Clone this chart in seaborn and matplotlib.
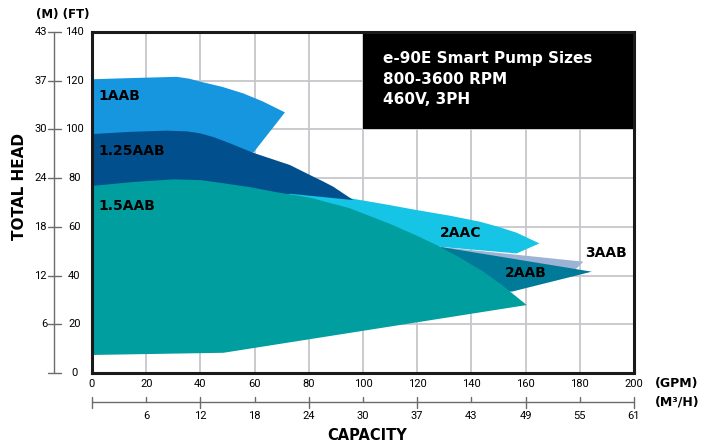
import matplotlib
matplotlib.use("Agg")
import matplotlib.pyplot as plt
import seaborn as sns

# capacity axis (GPM) and head axis (FT) with matching metric labels
gpm_ticks = [0, 20, 40, 60, 80, 100, 120, 140, 160, 180, 200]
m3h_labels = ["6", "12", "18", "24", "30", "37", "43", "49", "55", "61"]
ft_ticks = [0, 20, 40, 60, 80, 100, 120, 140]
m_labels = ["", "6", "12", "18", "24", "30", "37", "43"]

# pump coverage outlines (gpm, ft)
aab1_gpm = [0, 0, 15, 31.3, 36, 40, 48, 55.8, 63, 71.2, 59.5, 0]
aab1_ft = [90, 120.6, 121.1, 121.6, 120.8, 119.6, 117.5, 114.8, 111.5, 107.0, 90.4, 90]

aac2_gpm = [0, 0, 60, 80, 96.4, 108, 119.8, 132, 143.2, 150, 156.7, 165.1, 156.7, 128.4, 100, 0]
aac2_ft = [50, 70, 75.5, 75.0, 71.5, 69.3, 66.9, 64.6, 62.1, 60.0, 57.6, 53.2, 49.1, 51.8, 50, 50]

aab3_gpm = [128.4, 181.3, 178, 140]
aab3_ft = [51.8, 45.7, 42, 46]

aab2_gpm = [128.4, 184.4, 154.9, 140]
aab2_ft = [51.8, 41.6, 33.4, 35]

aab125_gpm = [0, 0, 14, 27.6, 35, 39.9, 45, 50.9, 59.5, 66, 73, 80.4, 85, 89, 96.4, 73, 60, 0]
aab125_ft = [70, 98.1, 99.0, 99.5, 99.2, 98.4, 96.8, 94.3, 90.4, 88.0, 85.4, 81.3, 78.8, 76.5, 71.0, 73.6, 70, 70]

aab15_gpm = [0, 0, 15, 30, 40, 48.5, 58.3, 68.2, 80.4, 95.2, 110, 120, 127.2, 136, 144.4, 152, 160.4, 48.5, 0]
aab15_ft = [7.4, 76.8, 78.4, 79.5, 79.2, 77.9, 76.3, 74.2, 72.0, 67.6, 61.2, 56.3, 52.5, 47.2, 41.6, 35.5, 27.9, 8.3, 7.4]

bands = [
    ("1AAB", aab1_gpm, aab1_ft, "#1796e0", (2.3, 113.7)),
    ("2AAC", aac2_gpm, aac2_ft, "#16c4e5", (128.2, 57.3)),
    ("3AAB", aab3_gpm, aab3_ft, "#9db3d5", (181.9, 49.4)),
    ("2AAB", aab2_gpm, aab2_ft, "#007a98", (152.4, 40.9)),
    ("1.25AAB", aab125_gpm, aab125_ft, "#024f8e", (2.3, 91.3)),
    ("1.5AAB", aab15_gpm, aab15_ft, "#009e9f", (2.3, 68.6)),
]

title_lines = "e-90E Smart Pump Sizes\n800-3600 RPM\n460V, 3PH"

sns.set_style("white")
plt.rcParams["font.family"] = ["DejaVu Sans"]
plt.rcParams["text.color"] = "black"
plt.rcParams["xtick.color"] = "black"

fig, ax = plt.subplots(figsize=(7.15, 4.44), dpi=100)
fig.subplots_adjust(left=92 / 715, right=634 / 715, bottom=71 / 444, top=412 / 444)

ax.set_xlim(0, 200)
ax.set_ylim(0, 140)
ax.set_xticks(gpm_ticks)
ax.set_yticks(ft_ticks)
ax.set_axisbelow(True)
ax.grid(True, color="#c6c6cb", lw=1.3)
ax.tick_params(axis="x", length=0, pad=4, labelsize=8, labelcolor="black")
ax.tick_params(axis="y", length=0, labelleft=False)
for lab in ax.get_xticklabels():
    lab.set_fontfamily("Roboto")
for sp in ax.spines.values():
    sp.set_visible(True)
    sp.set_color("#1a1a1a")
    sp.set_linewidth(2.2)
    sp.set_zorder(5)

for i, (name, xs, ys, col, (tx, ty)) in enumerate(bands):
    ax.fill(xs, ys, color=col, lw=0, zorder=2 + i * 0.1)

for name, xs, ys, col, (tx, ty) in bands:
    ax.text(tx, ty, name, fontsize=10, fontweight="bold", color="black",
            ha="left", va="center", zorder=4)

# black title box in the upper right
ax.fill_between([100, 200], 100, 140, color="black", lw=0, zorder=3)
ax.text(107.5, 120.7, title_lines, color="white", fontsize=11, fontweight="bold",
        ha="left", va="center", linespacing=1.45, zorder=4)

# left scale: metres / feet
ytr = ax.get_yaxis_transform()
grey = "#6b6b6b"
ax.plot([-0.0701, -0.0701], [0, 140], transform=ytr, clip_on=False, color=grey, lw=1)
for ft, m in zip(ft_ticks, m_labels):
    ax.plot([-0.0812, -0.0572], [ft, ft], transform=ytr, clip_on=False, color=grey, lw=1)
    ax.text(-0.083, ft, m, transform=ytr, ha="right", va="center", fontsize=8, family="Roboto")
    ax.text(-0.0323, ft, str(ft), transform=ytr, ha="center", va="center", fontsize=8, family="Roboto")
ax.text(-0.0535, 1.052, "(M) (FT)", transform=ax.transAxes, ha="center", va="center",
        fontsize=8.5, fontweight="bold")
ax.text(-0.133, 0.548, "TOTAL HEAD", transform=ax.transAxes, rotation=90,
        ha="center", va="center", fontsize=11, fontweight="bold")

# bottom scale: cubic metres per hour
xtr = ax.get_xaxis_transform()
ax.plot([0, 200], [-0.085, -0.085], transform=xtr, clip_on=False, color=grey, lw=1)
for i, g in enumerate(gpm_ticks):
    lo = -0.1026 if i % 2 == 0 else -0.085
    ax.plot([g, g], [-0.0704, lo], transform=xtr, clip_on=False, color=grey, lw=1)
for g, m in zip(gpm_ticks[1:], m3h_labels):
    ax.text(g, -0.126, m, transform=xtr, ha="center", va="center", fontsize=8, family="Roboto")
ax.text(1.0387, -0.032, "(GPM)", transform=ax.transAxes, ha="left", va="center",
        fontsize=9, fontweight="bold")
ax.text(1.0387, -0.085, "(M³/H)", transform=ax.transAxes, ha="left", va="center",
        fontsize=9, fontweight="bold")
ax.text(0.507, -0.182, "CAPACITY", transform=ax.transAxes, ha="center", va="center",
        fontsize=10.5, fontweight="bold")

fig.savefig("out.png", dpi=100)
